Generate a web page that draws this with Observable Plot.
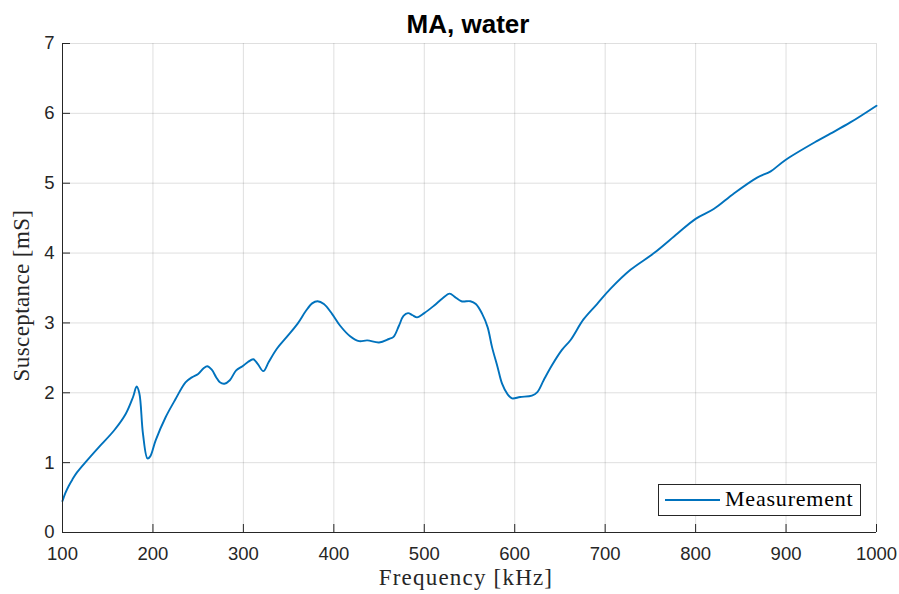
<!DOCTYPE html>
<html>
<head>
<meta charset="utf-8">
<script src="https://cdn.jsdelivr.net/npm/d3@7"></script>
<script src="https://cdn.jsdelivr.net/npm/@observablehq/plot@0.6"></script>
<style>
  html, body { margin: 0; padding: 0; background: #fff; }
  #chart { width: 899px; height: 594px; }
</style>
</head>
<body>
<div id="chart"></div>
<script>
// Admittance measurement: susceptance vs. frequency (MA transducer in water)
const freqKHz = [
  100, 103, 107, 111, 116, 127, 140, 157, 170, 178, 182, 185, 189, 194, 197, 203, 214, 225,
  236, 243, 250, 256, 260, 265, 270, 274, 279, 285, 292, 299, 305, 311, 316, 322,
  328, 337, 348, 360, 369, 376, 382, 389, 398, 407, 418, 428, 437, 450, 461, 466,
  472, 477, 482, 487, 492, 500, 511, 520, 528, 534, 541, 551, 557, 564, 570, 575,
  581, 586, 592, 597, 606, 619, 625, 632, 641, 652, 662, 676, 691, 706, 728, 754,
  780, 800, 820, 842, 868, 883, 899, 935, 949, 971, 1000
];
const susceptanceMS = [
  0.45, 0.56, 0.67, 0.76, 0.86, 1.03, 1.22, 1.46, 1.70, 1.94, 2.09, 1.99, 1.41, 1.06, 1.09, 1.32, 1.65, 1.91,
  2.15, 2.22, 2.27, 2.35, 2.38, 2.33, 2.22, 2.15, 2.13, 2.18, 2.32, 2.38, 2.44, 2.48, 2.41, 2.31,
  2.44, 2.63, 2.80, 2.99, 3.17, 3.28, 3.31, 3.27, 3.13, 2.96, 2.81, 2.74, 2.75, 2.72, 2.77, 2.80,
  2.96, 3.10, 3.14, 3.11, 3.08, 3.14, 3.25, 3.35, 3.42, 3.37, 3.31, 3.31, 3.27, 3.13, 2.94, 2.65,
  2.37, 2.13, 1.98, 1.92, 1.94, 1.96, 2.01, 2.18, 2.39, 2.61, 2.76, 3.05, 3.27, 3.49, 3.76, 4.00,
  4.28, 4.49, 4.63, 4.85, 5.08, 5.17, 5.33, 5.61, 5.71, 5.87, 6.11
];
const xTicks = [100, 200, 300, 400, 500, 600, 700, 800, 900, 1000];
const yTicks = [0, 1, 2, 3, 4, 5, 6, 7];

const titleText = "MA, water";
const xLabel = "Frequency [kHz]";
const yLabel = "Susceptance [mS]";
const seriesName = "Measurement";

const rows = freqKHz.map((f, i) => ({f, b: susceptanceMS[i]}));

const W = 899, H = 594;
const mL = 62, mR = 23, mT = 43, mB = 62;
const frameW = W - mL - mR, frameH = H - mT - mB;
const axisColor = "#262626";
const lineColor = "#0072bd";
const tickLen = 8;
const intFmt = d3.format("d");

const chart = Plot.plot({
  width: W,
  height: H,
  marginLeft: mL,
  marginRight: mR,
  marginTop: mT,
  marginBottom: mB,
  style: {
    fontFamily: "'Liberation Sans', Arial, Helvetica, sans-serif",
    fontSize: "18.5px",
    color: axisColor,
    background: "#fff",
    overflow: "visible"
  },
  x: {domain: [100, 1000], ticks: xTicks, tickFormat: intFmt, tickSize: 0, tickPadding: 14, label: null},
  y: {domain: [0, 7], ticks: yTicks, tickFormat: intFmt, tickSize: 0, tickPadding: 8, label: null},
  marks: [
    // grid
    Plot.ruleX(xTicks, {x: d => d, stroke: axisColor, strokeOpacity: 0.15}),
    Plot.ruleY(yTicks, {y: d => d, stroke: axisColor, strokeOpacity: 0.15}),
    // data
    Plot.line(rows, {x: "f", y: "b", stroke: lineColor, strokeWidth: 1.9, curve: "catmull-rom"}),
    // axis lines (left and bottom only)
    Plot.ruleX([100], {stroke: axisColor, strokeWidth: 1}),
    Plot.ruleY([0], {stroke: axisColor, strokeWidth: 1}),
    // inward tick marks
    Plot.tickX(xTicks, {x: d => d, insetTop: frameH - tickLen, stroke: axisColor}),
    Plot.tickY(yTicks, {y: d => d, insetRight: frameW - tickLen, stroke: axisColor})
  ]
});

document.getElementById("chart").appendChild(chart);

const svg = d3.select(chart.tagName.toLowerCase() === "svg" ? chart : chart.querySelector("svg"));
const cx = mL + frameW / 2;
const serif = "'Liberation Serif', 'Times New Roman', serif";

// title
svg.append("text")
  .attr("x", cx - 1).attr("y", 33)
  .attr("text-anchor", "middle")
  .attr("font-family", "'Liberation Sans', Arial, sans-serif")
  .attr("font-weight", "bold")
  .attr("font-size", 26)
  .attr("fill", "#000")
  .text(titleText);

// x label
svg.append("text")
  .attr("x", cx - 3).attr("y", 585)
  .attr("text-anchor", "middle")
  .attr("font-family", serif)
  .attr("font-size", 23)
  .attr("letter-spacing", "1.2px")
  .attr("fill", axisColor)
  .text(xLabel);

// y label
svg.append("text")
  .attr("transform", `translate(29,${mT + frameH / 2 + 8}) rotate(-90)`)
  .attr("text-anchor", "middle")
  .attr("font-family", serif)
  .attr("font-size", 23)
  .attr("letter-spacing", "0.4px")
  .attr("fill", axisColor)
  .text(yLabel);

// legend
const lg = svg.append("g");
lg.append("rect")
  .attr("x", 658.5).attr("y", 484.5)
  .attr("width", 202).attr("height", 31)
  .attr("fill", "#fff")
  .attr("stroke", axisColor)
  .attr("stroke-width", 1);
lg.append("line")
  .attr("x1", 665).attr("x2", 720)
  .attr("y1", 500).attr("y2", 500)
  .attr("stroke", lineColor)
  .attr("stroke-width", 1.9);
lg.append("text")
  .attr("x", 725).attr("y", 506)
  .attr("text-anchor", "start")
  .attr("font-family", serif)
  .attr("font-size", 22)
  .attr("letter-spacing", "0.8px")
  .attr("fill", "#000")
  .text(seriesName);
</script>
</body>
</html>
